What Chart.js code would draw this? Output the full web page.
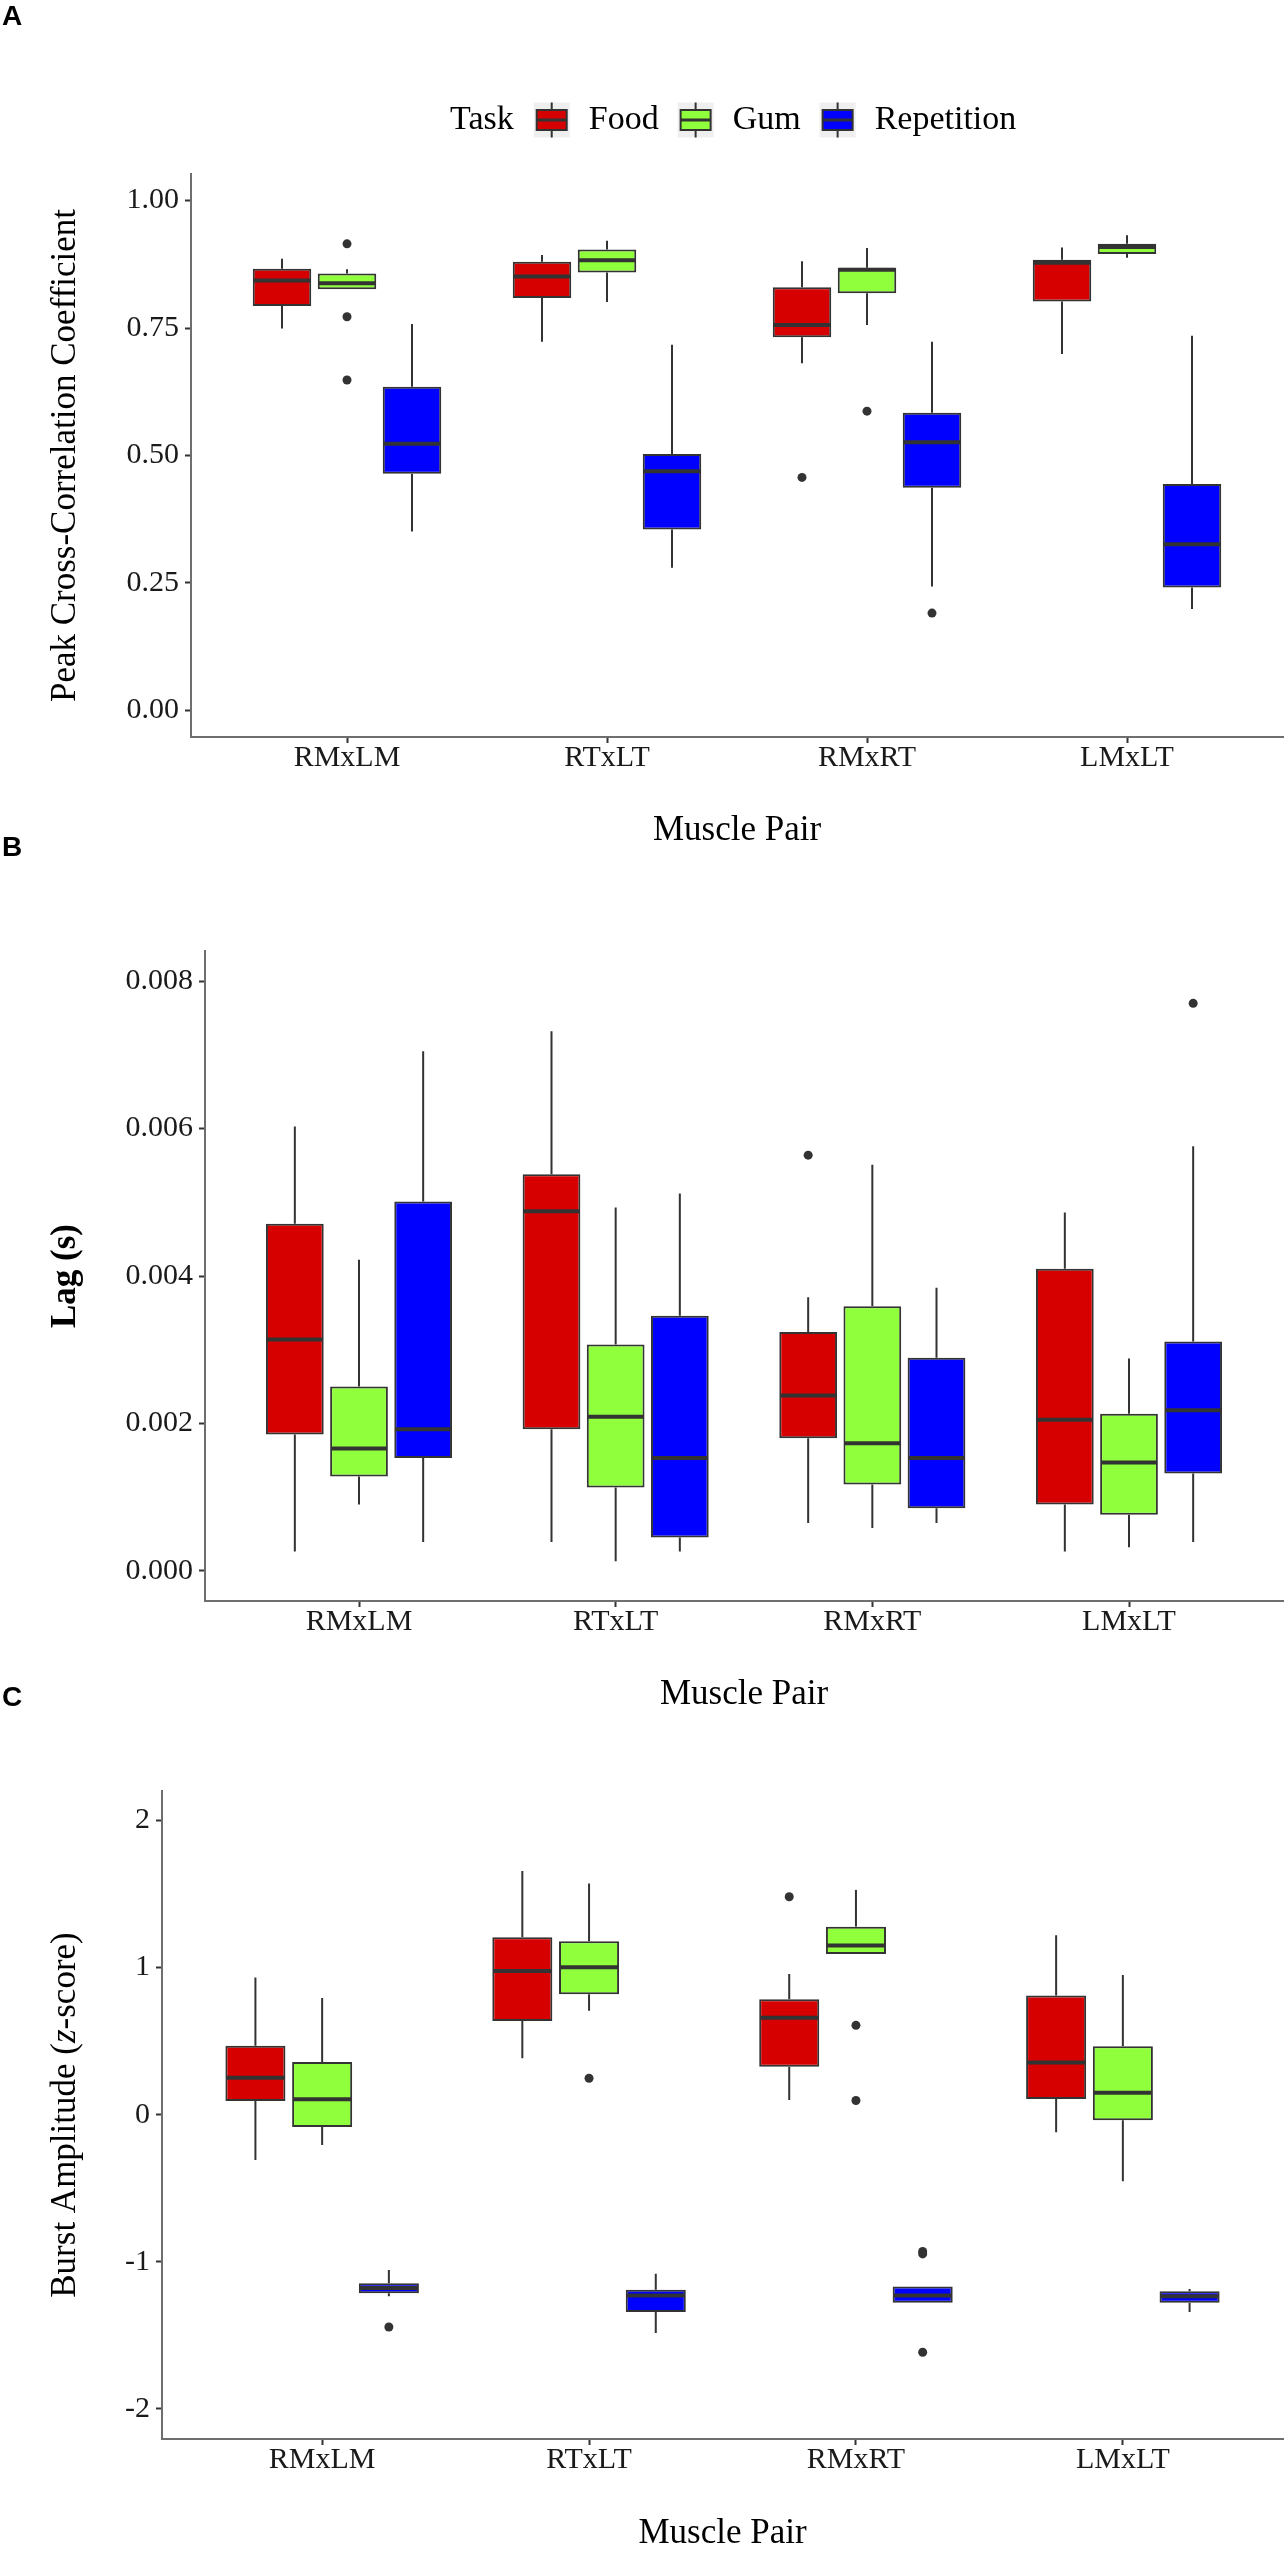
<!DOCTYPE html>
<html>
<head>
<meta charset="utf-8">
<script src="https://cdn.jsdelivr.net/npm/chart.js@4.4.1/dist/chart.umd.min.js"></script>
<style>
  html, body { margin: 0; padding: 0; background: #fff; }
  body { position: relative; width: 1287px; height: 2550px; overflow: hidden; }
  canvas { position: absolute; left: 0; }
</style>
</head>
<body>
<canvas id="panelA" width="1287" height="900" style="top:0px"></canvas>
<canvas id="panelB" width="1287" height="900" style="top:831px"></canvas>
<canvas id="panelC" width="1287" height="880" style="top:1681px"></canvas>
<script>
const pairs = ["RMxLM", "RTxLT", "RMxRT", "LMxLT"];
const tasks = ["Food", "Gum", "Repetition"];

// each row: [lower whisker, Q1, median, Q3, upper whisker], one row per muscle pair
// A - peak cross-correlation coefficient
const corrFood = [[0.749, 0.793, 0.843, 0.866, 0.886], [0.723, 0.809, 0.851, 0.880, 0.893], [0.681, 0.732, 0.756, 0.830, 0.881], [0.699, 0.802, 0.878, 0.884, 0.908]];
const corrGum  = [[0.826, 0.826, 0.838, 0.857, 0.865], [0.801, 0.859, 0.883, 0.904, 0.921], [0.756, 0.818, 0.864, 0.868, 0.907], [0.888, 0.895, 0.909, 0.915, 0.932]];
const corrRep  = [[0.351, 0.464, 0.523, 0.635, 0.758], [0.280, 0.355, 0.469, 0.503, 0.717], [0.243, 0.437, 0.526, 0.584, 0.723], [0.199, 0.241, 0.326, 0.444, 0.735]];
const corrFoodOut = [[], [], [0.457], []];
const corrGumOut  = [[0.915, 0.772, 0.648], [], [0.587], []];
const corrRepOut  = [[], [], [0.191], []];
const corrTicks = [0, 0.25, 0.5, 0.75, 1];
const corrTickLabels = ["0.00", "0.25", "0.50", "0.75", "1.00"];

// B - lag (s)
const lagFood = [[0.00026, 0.00185, 0.00314, 0.00471, 0.00603], [0.00039, 0.00192, 0.00488, 0.00538, 0.00732], [0.00065, 0.00180, 0.00238, 0.00324, 0.00371], [0.00026, 0.00090, 0.00205, 0.00410, 0.00486]];
const lagGum  = [[0.00090, 0.00128, 0.00166, 0.00250, 0.00422], [0.00013, 0.00113, 0.00209, 0.00307, 0.00493], [0.00058, 0.00117, 0.00173, 0.00359, 0.00551], [0.00032, 0.00076, 0.00147, 0.00213, 0.00288]];
const lagRep  = [[0.00039, 0.00153, 0.00192, 0.00501, 0.00705], [0.00026, 0.00045, 0.00153, 0.00346, 0.00512], [0.00065, 0.00085, 0.00153, 0.00289, 0.00384], [0.00039, 0.00132, 0.00218, 0.00311, 0.00576]];
const lagFoodOut = [[], [], [0.00564], []];
const lagGumOut  = [[], [], [], []];
const lagRepOut  = [[], [], [], [0.0077]];
const lagTicks = [0, 0.002, 0.004, 0.006, 0.008];
const lagTickLabels = ["0.000", "0.002", "0.004", "0.006", "0.008"];

// C - burst amplitude (z-score)
const ampFood = [[-0.308, 0.093, 0.250, 0.468, 0.932], [0.383, 0.636, 0.976, 1.206, 1.656], [0.099, 0.325, 0.659, 0.784, 0.956], [-0.119, 0.107, 0.354, 0.810, 1.220]];
const ampGum  = [[-0.206, -0.084, 0.105, 0.357, 0.793], [0.706, 0.819, 1.002, 1.179, 1.572], [1.092, 1.092, 1.150, 1.278, 1.528], [-0.453, -0.038, 0.148, 0.465, 0.950]];
const ampRep  = [[-1.235, -1.214, -1.179, -1.147, -1.057], [-1.484, -1.342, -1.229, -1.191, -1.081], [-1.278, -1.278, -1.229, -1.168, -1.168], [-1.342, -1.278, -1.235, -1.200, -1.185]];
const ampFoodOut = [[], [], [1.481], []];
const ampGumOut  = [[], [0.247], [0.607, 0.096], []];
const ampRepOut  = [[-1.444], [], [-0.930, -0.947, -1.615], []];
const ampTicks = [-2, -1, 0, 1, 2];
const ampTickLabels = ["-2", "-1", "0", "1", "2"];

const boxColors = ["#D60000", "#90FF3C", "#0000FF"];
const ink = "#333333";
const serif = '"Liberation Serif", "Times New Roman", serif';

Chart.defaults.font.family = serif;
Chart.defaults.color = "#000";

// whiskers behind the boxes, medians and outliers on top
const boxplotMarks = {
    id: "boxplotMarks",
    beforeDatasetsDraw(chart) {
        const ctx = chart.ctx;
        const y = chart.scales.y;
        ctx.save();
        ctx.strokeStyle = ink;
        ctx.lineWidth = 2;
        chart.data.datasets.forEach((ds, d) => {
            chart.getDatasetMeta(d).data.forEach((el, i) => {
                const s = ds.stats[i];
                ctx.beginPath();
                ctx.moveTo(el.x, y.getPixelForValue(s[4]));
                ctx.lineTo(el.x, y.getPixelForValue(s[3]));
                ctx.moveTo(el.x, y.getPixelForValue(s[1]));
                ctx.lineTo(el.x, y.getPixelForValue(s[0]));
                ctx.stroke();
            });
        });
        ctx.restore();
    },
    afterDatasetsDraw(chart) {
        const ctx = chart.ctx;
        const y = chart.scales.y;
        ctx.save();
        chart.data.datasets.forEach((ds, d) => {
            chart.getDatasetMeta(d).data.forEach((el, i) => {
                const med = y.getPixelForValue(ds.stats[i][2]);
                ctx.strokeStyle = ink;
                ctx.lineWidth = 4;
                ctx.beginPath();
                ctx.moveTo(el.x - el.width / 2 + 1, med);
                ctx.lineTo(el.x + el.width / 2 - 1, med);
                ctx.stroke();

                ctx.fillStyle = ink;
                ds.outliers[i].forEach(v => {
                    ctx.beginPath();
                    ctx.arc(el.x, y.getPixelForValue(v), 4.5, 0, Math.PI * 2);
                    ctx.fill();
                });
            });
        });
        ctx.restore();
    }
};

// rotated y title, with mixed font styles, plus the panel letter
const panelText = {
    id: "panelText",
    afterDraw(chart, args, opts) {
        const ctx = chart.ctx;
        const area = chart.chartArea;
        ctx.save();
        ctx.fillStyle = "#000";
        ctx.font = 'bold 28px "Liberation Sans", Arial, sans-serif';
        ctx.textBaseline = "alphabetic";
        ctx.textAlign = "left";
        ctx.fillText(opts.letter, 2, 25);

        const fontOf = p => (p.italic ? "italic " : "") + (p.bold ? "bold " : "") + "35px " + serif;
        ctx.translate(opts.x, (area.top + area.bottom) / 2);
        ctx.rotate(-Math.PI / 2);
        ctx.textBaseline = "middle";
        let total = 0;
        opts.parts.forEach(p => { ctx.font = fontOf(p); total += ctx.measureText(p.text).width; });
        let x = -total / 2;
        opts.parts.forEach(p => {
            ctx.font = fontOf(p);
            ctx.fillText(p.text, x, 0);
            x += ctx.measureText(p.text).width;
        });
        ctx.restore();
    }
};

// "Task" legend with boxplot keys, only on panel A
const taskLegend = {
    id: "taskLegend",
    afterDraw(chart, args, opts) {
        if (!opts.show) return;
        const ctx = chart.ctx;
        const cy = opts.y;
        let x = opts.x;
        ctx.save();
        ctx.font = "34px " + serif;
        ctx.textBaseline = "middle";
        ctx.textAlign = "left";
        ctx.fillStyle = "#000";
        ctx.fillText("Task", x, cy);
        x += ctx.measureText("Task").width + 20;
        tasks.forEach((task, t) => {
            ctx.fillStyle = "#EFEFEF";
            ctx.fillRect(x, cy - 17.5, 36, 35);
            ctx.strokeStyle = ink;
            ctx.lineWidth = 2;
            ctx.beginPath();
            ctx.moveTo(x + 18, cy - 17.5); ctx.lineTo(x + 18, cy - 10);
            ctx.moveTo(x + 18, cy + 10); ctx.lineTo(x + 18, cy + 17.5);
            ctx.stroke();
            ctx.fillStyle = boxColors[t];
            ctx.fillRect(x + 3, cy - 10, 30, 20);
            ctx.strokeRect(x + 3, cy - 10, 30, 20);
            ctx.lineWidth = 3;
            ctx.beginPath();
            ctx.moveTo(x + 3, cy); ctx.lineTo(x + 33, cy);
            ctx.stroke();
            x += 36 + 19;
            ctx.fillStyle = "#000";
            ctx.fillText(task, x, cy);
            x += ctx.measureText(task).width + 19;
        });
        ctx.restore();
    }
};

function makePanel(id, p) {
    const canvas = document.getElementById(id);
    const H = canvas.height;
    const padBottom = H - p.xTitleY - 21;

    const datasets = tasks.map((task, t) => ({
        label: task,
        data: pairs.map((pair, i) => ({ x: i + 1, y: [p.stats[t][i][1], p.stats[t][i][3]] })),
        stats: p.stats[t],
        outliers: p.outliers[t],
        backgroundColor: boxColors[t],
        borderColor: ink,
        borderWidth: 2,
        borderSkipped: false,
        categoryPercentage: 0.75,
        barPercentage: 0.9
    }));

    return new Chart(canvas, {
        type: "bar",
        data: { datasets },
        plugins: [boxplotMarks, panelText, taskLegend],
        options: {
            responsive: false,
            animation: false,
            layout: { padding: { top: p.top, right: 4, bottom: padBottom, left: 0 } },
            plugins: {
                legend: { display: false },
                tooltip: { enabled: false },
                panelText: { letter: p.letter, x: 66, parts: p.yTitle },
                taskLegend: { show: !!p.legend, x: 450, y: 120 }
            },
            scales: {
                x: {
                    type: "linear",
                    offset: false,
                    min: 0.4,
                    max: 4.6,
                    afterBuildTicks: s => { s.ticks = pairs.map((pair, i) => ({ value: i + 1 })); },
                    afterFit: s => { s.height = H - padBottom - p.bottom; },
                    ticks: {
                        callback: v => pairs[v - 1],
                        font: { size: 30, lineHeight: 1 },
                        color: "#1a1a1a",
                        padding: 0,
                        maxRotation: 0,
                        autoSkip: false
                    },
                    grid: { offset: false, drawOnChartArea: false, drawTicks: true, tickLength: 6, tickColor: ink, tickWidth: 2 },
                    border: { display: true, color: "#6e6e6e", width: 2 },
                    title: { display: true, text: "Muscle Pair", font: { size: 35 }, color: "#000", padding: 0 }
                },
                y: {
                    min: p.yMin,
                    max: p.yMax,
                    afterBuildTicks: s => { s.ticks = p.ticks.map(v => ({ value: v })); },
                    afterFit: s => { s.width = p.left; },
                    ticks: {
                        callback: (v, i) => p.tickLabels[i],
                        font: { size: 30 },
                        color: "#1a1a1a",
                        padding: 6,
                        autoSkip: false
                    },
                    grid: { drawOnChartArea: false, drawTicks: true, tickLength: 6, tickColor: ink, tickWidth: 2 },
                    border: { display: true, color: "#6e6e6e", width: 2 }
                }
            }
        }
    });
}

makePanel("panelA", {
    letter: "A", legend: true,
    stats: [corrFood, corrGum, corrRep],
    outliers: [corrFoodOut, corrGumOut, corrRepOut],
    yMin: -0.052, yMax: 1.052,
    ticks: corrTicks, tickLabels: corrTickLabels,
    yTitle: [{ text: "Peak Cross-Correlation Coefficient" }],
    top: 174, bottom: 737, left: 191, xTitleY: 831
});

makePanel("panelB", {
    letter: "B",
    stats: [lagFood, lagGum, lagRep],
    outliers: [lagFoodOut, lagGumOut, lagRepOut],
    yMin: -0.00041, yMax: 0.00841,
    ticks: lagTicks, tickLabels: lagTickLabels,
    yTitle: [{ text: "Lag (s)", bold: true }],
    top: 120, bottom: 770, left: 205, xTitleY: 864
});

makePanel("panelC", {
    letter: "C",
    stats: [ampFood, ampGum, ampRep],
    outliers: [ampFoodOut, ampGumOut, ampRepOut],
    yMin: -2.205, yMax: 2.2,
    ticks: ampTicks, tickLabels: ampTickLabels,
    yTitle: [{ text: "Burst Amplitude (" }, { text: "z", italic: true }, { text: "-score)" }],
    top: 110, bottom: 758, left: 162, xTitleY: 853
});
</script>
</body>
</html>
